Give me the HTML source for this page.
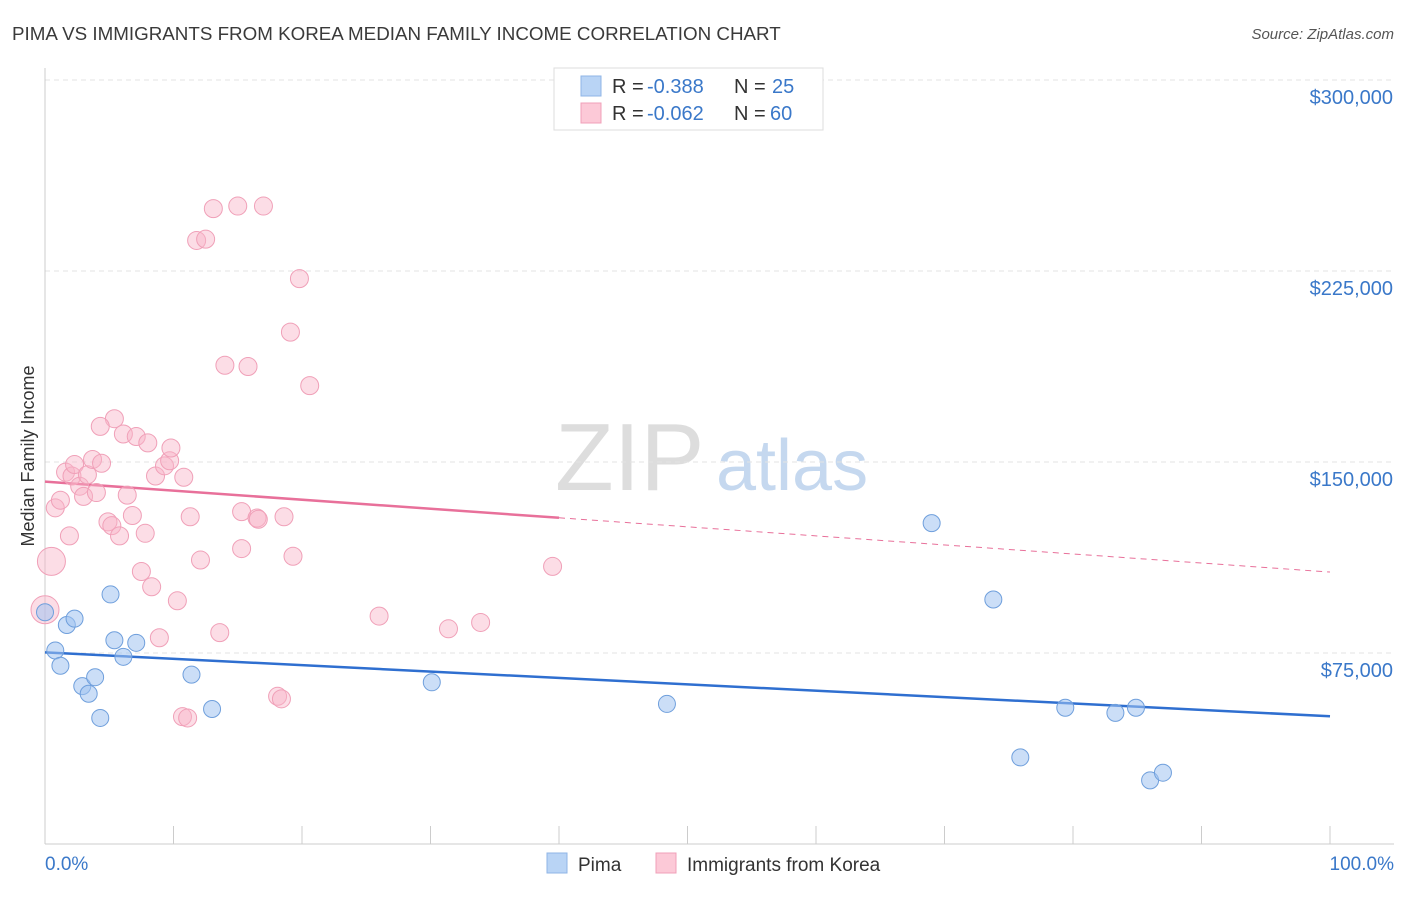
<!DOCTYPE html>
<html><head><meta charset="utf-8"><style>
body{margin:0;background:#fff;font-family:"Liberation Sans",sans-serif;}
svg text{font-family:"Liberation Sans",sans-serif;}
</style></head><body>
<svg width="1406" height="892" xmlns="http://www.w3.org/2000/svg">
<text x="12" y="40" font-size="18.8" fill="#3a3a3a">PIMA VS IMMIGRANTS FROM KOREA MEDIAN FAMILY INCOME CORRELATION CHART</text>
<text x="1394" y="39" font-size="15" fill="#555" text-anchor="end" font-style="italic">Source: ZipAtlas.com</text>
<text x="555" y="490" font-size="96" fill="#ddd" font-family="Liberation Serif">ZIP</text>
<text x="716" y="490" font-size="72" fill="#c5d8ef">atlas</text>
<g id="grid"></g><g id="axes"></g><g id="trend"></g><g id="pts"></g>
<text transform="translate(34,456) rotate(-90)" font-size="18" fill="#333" text-anchor="middle">Median Family Income</text>
<text x="45" y="870" font-size="19" fill="#3a78c9">0.0%</text>
<text x="1394" y="870" font-size="19" fill="#3a78c9" text-anchor="end">100.0%</text>
<g>
<rect x="554" y="68" width="269" height="62" fill="#fff" stroke="#ddd"/>
<rect x="581" y="76" width="20" height="20" fill="#b9d4f5" stroke="#8fb5e6"/>
<rect x="581" y="103" width="20" height="20" fill="#fcc9d7" stroke="#f0a0b8"/>
<text x="612" y="93" font-size="20" fill="#333">R =</text>
<text x="647" y="93" font-size="20" fill="#3a78c9">-0.388</text>
<text x="734" y="93" font-size="20" fill="#333">N =</text>
<text x="772" y="93" font-size="20" fill="#3a78c9">25</text>
<text x="612" y="120" font-size="20" fill="#333">R =</text>
<text x="647" y="120" font-size="20" fill="#3a78c9">-0.062</text>
<text x="734" y="120" font-size="20" fill="#333">N =</text>
<text x="770" y="120" font-size="20" fill="#3a78c9">60</text>
</g>
<g>
<rect x="547" y="853" width="20" height="20" fill="#b9d4f5" stroke="#8fb5e6"/>
<text x="578" y="871" font-size="19" fill="#333">Pima</text>
<rect x="656" y="853" width="20" height="20" fill="#fcc9d7" stroke="#f0a0b8"/>
<text x="687" y="871" font-size="19" fill="#333">Immigrants from Korea</text>
</g>
</svg>
<script>
const yTicks=[75000,150000,225000,300000];
const yTickLabels=["$75,000","$150,000","$225,000","$300,000"];
const xTicks=[0,10,20,30,40,50,60,70,80,90,100];
const pimaX=[0,0.8,1.2,1.7,2.3,2.9,3.4,3.9,4.3,5.1,5.4,6.1,7.1,11.4,13.0,30.1,48.4,69.0,73.8,75.9,79.4,83.3,84.9,86.0,87.0];
const pimaY=[91000,76000,70000,86000,88500,62000,59000,65500,49500,98000,80000,73500,79000,66500,53000,63500,55000,126000,96000,34000,53500,51500,53500,25000,28000];
const koreaX=[0,0.5,0.8,1.2,1.6,1.9,2.1,2.3,2.7,3.0,3.3,3.7,4.0,4.4,4.9,5.2,5.4,5.8,4.3,6.1,6.4,6.8,7.1,7.5,7.8,8.0,8.3,8.6,8.9,9.3,9.7,9.8,10.3,10.8,11.3,10.7,11.1,11.8,12.1,12.5,13.1,13.6,14.0,15.0,15.3,15.3,15.8,16.5,16.6,17.0,18.1,18.4,18.6,19.1,19.3,19.8,20.6,26.0,31.4,33.9,39.5];
const koreaY=[92000,111000,132000,135000,146000,121000,144500,149000,140500,136500,145000,151000,138000,149500,126500,125000,167000,121000,164000,161000,137000,129000,160000,107000,122000,157500,101000,144500,81000,148500,150500,155500,95500,144000,128500,50000,49500,237000,111500,237500,249500,83000,188000,250500,116000,130500,187500,128000,127500,250500,58000,57000,128500,201000,113000,222000,180000,89500,84500,87000,109000];
const NS='http://www.w3.org/2000/svg';
const X0=45,X1=1330,Y0=844,PX=191/75000;
const xs=v=>X0+(X1-X0)*v/100, ys=v=>Y0-v*PX;
function mk(t,a,p){const e=document.createElementNS(NS,t);for(const k in a)e.setAttribute(k,a[k]);document.getElementById(p).appendChild(e);return e;}
yTicks.forEach((t,i)=>{
 const l=mk('line',{x1:X0,x2:1394,y1:ys(t),y2:ys(t),stroke:'#e3e3e3','stroke-dasharray':'5,4'},'grid');
 
 
 const tx=mk('text',{x:1393,y:ys(t)+24,'font-size':20,fill:'#3a78c9','text-anchor':'end'},'grid');
 tx.textContent=yTickLabels[i];
 
 
});
const ax=mk('line',{x1:X0,x2:1394,y1:Y0,y2:Y0,stroke:'#ccc'},'axes');


const ay=mk('line',{x1:X0,x2:X0,y1:68,y2:Y0,stroke:'#ccc'},'axes');


xTicks.forEach(t=>{const l=mk('line',{x1:xs(t),x2:xs(t),y1:Y0,y2:Y0-18,stroke:'#ccc'},'axes');
 
 });
function fit(X,Y){const n=X.length;let mx=0,my=0;X.forEach((x,i)=>{mx+=x;my+=Y[i]});mx/=n;my/=n;let sxy=0,sxx=0;X.forEach((x,i)=>{sxy+=(x-mx)*(Y[i]-my);sxx+=(x-mx)**2});const b=sxy/sxx;return [my-b*mx,b];}
const [pa,pb]=fit(pimaX,pimaY);
const bl=mk('line',{x1:xs(0),y1:ys(pa),x2:xs(100),y2:ys(pa+pb*100),stroke:'#2f6fd0','stroke-width':2.5},'trend');


const [ka,kb]=fit(koreaX,koreaY);
const kl=mk('line',{x1:xs(0),y1:ys(ka),x2:xs(40),y2:ys(ka+kb*40),stroke:'#e8709a','stroke-width':2.5},'trend');


const kd=mk('line',{x1:xs(40),y1:ys(ka+kb*40),x2:xs(100),y2:ys(ka+kb*100),stroke:'#e8709a','stroke-width':1,'stroke-dasharray':'6,5'},'trend');


koreaX.forEach((x,i)=>{const r=i<2?14:9;const c=mk('circle',{cx:xs(x),cy:ys(koreaY[i]),r:r,fill:'rgba(248,180,200,0.45)',stroke:'#f0a0b8','stroke-width':1},'pts');
 
 });
pimaX.forEach((x,i)=>{const c=mk('circle',{cx:xs(x),cy:ys(pimaY[i]),r:8.5,fill:'rgba(160,195,240,0.55)',stroke:'#6f9fdc','stroke-width':1},'pts');
 
 });
</script>
</body></html>
